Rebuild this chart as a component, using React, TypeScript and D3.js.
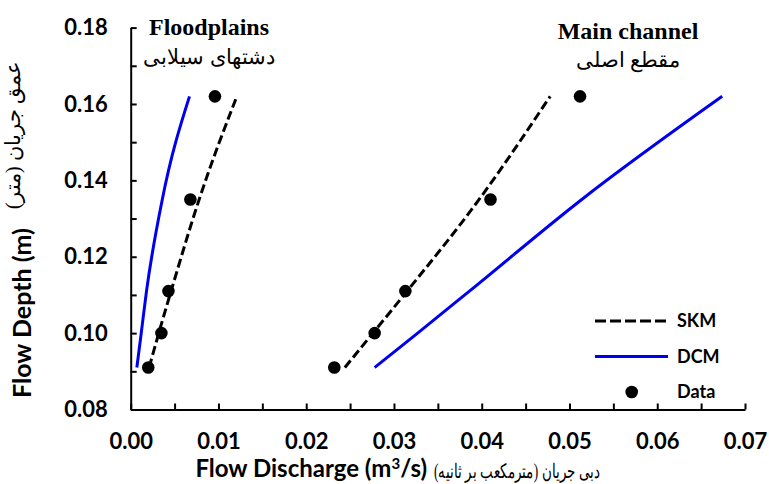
import React, { useRef, useEffect } from 'react';
import * as d3 from 'd3';

// Flow depth (m) shared by every series
const depths = [0.091, 0.1, 0.111, 0.135, 0.162];

// Floodplains
const fpData = [0.002, 0.0035, 0.0043, 0.0068, 0.0096];
const fpSKM = [0.0021, 0.0032, 0.0046, 0.0078, 0.0121];
const fpDCM = [0.0007, 0.0012, 0.0018, 0.0036, 0.0067];

// Main channel
const mcData = [0.0232, 0.0278, 0.0313, 0.041, 0.0512];
const mcSKM = [0.0244, 0.0276, 0.0315, 0.0397, 0.0478];
const mcDCM = [0.0278, 0.0327, 0.0386, 0.0514, 0.0674];

const xTicks = d3.range(0, 0.0701, 0.005);
const yTicks = d3.range(0.08, 0.1801, 0.01);
const xLabels = ['0.00', '0.01', '0.02', '0.03', '0.04', '0.05', '0.06', '0.07'];
const yLabels = ['0.08', '0.10', '0.12', '0.14', '0.16', '0.18'];

const legendItems = ['SKM', 'DCM', 'Data'];

const W = 769;
const H = 484;
const sans = 'Lato, "Open Sans", sans-serif';
const serif = '"Liberation Serif", "Times New Roman", "DejaVu Serif", serif';
const blue = '#0000f0';

const App = () => {
  const xAxisRef = useRef<SVGGElement>(null);
  const yAxisRef = useRef<SVGGElement>(null);

  const x = d3.scaleLinear().domain([0, 0.07]).range([130.7, 745]);
  const y = d3.scaleLinear().domain([0.08, 0.18]).range([409.5, 27.6]);

  useEffect(() => {
    const fmtX = (d: number) => {
      const i = Math.round(d / 0.01);
      return Math.abs(d - i * 0.01) < 1e-6 ? xLabels[i] : '';
    };
    const fmtY = (d: number) => {
      const i = Math.round((d - 0.08) / 0.02);
      return Math.abs(d - 0.08 - i * 0.02) < 1e-6 ? yLabels[i] : '';
    };

    const gx = d3.select(xAxisRef.current);
    gx.selectAll('*').remove();
    gx.call(
      d3
        .axisBottom(x)
        .tickValues(xTicks)
        .tickSizeInner(-6)
        .tickSizeOuter(0)
        .tickPadding(24)
        .tickFormat((d) => fmtX(+d))
    );

    const gy = d3.select(yAxisRef.current);
    gy.selectAll('*').remove();
    gy.call(
      d3
        .axisLeft(y)
        .tickValues(yTicks)
        .tickSizeInner(-6)
        .tickSizeOuter(0)
        .tickPadding(23)
        .tickFormat((d) => fmtY(+d))
    );

    [gx, gy].forEach((g) => {
      g.select('.domain').attr('stroke', '#000').attr('stroke-width', 2);
      g.selectAll('.tick line').attr('stroke', '#000').attr('stroke-width', 2);
      g.selectAll('.tick text')
        .attr('fill', '#000')
        .style('font-family', sans)
        .style('font-weight', 'bold')
        .style('font-size', '22px');
    });
  }, []);

  const line = d3
    .line<[number, number]>()
    .x((d) => x(d[0]))
    .y((d) => y(d[1]))
    .curve(d3.curveMonotoneX);

  const pairs = (xs: number[]) => xs.map((v, i) => [v, depths[i]] as [number, number]);

  return (
    <svg width={W} height={H} style={{ position: 'absolute', left: 0, top: 0, background: '#fff' }}>
      {/* model curves */}
      <path d={line(pairs(fpDCM)) || ''} fill="none" stroke={blue} strokeWidth={3} />
      <path d={line(pairs(mcDCM)) || ''} fill="none" stroke={blue} strokeWidth={3} />
      <path d={line(pairs(fpSKM)) || ''} fill="none" stroke="#000" strokeWidth={3} strokeDasharray="9 4" />
      <path d={line(pairs(mcSKM)) || ''} fill="none" stroke="#000" strokeWidth={3} strokeDasharray="9 4" />

      {/* measured data */}
      {pairs(fpData).concat(pairs(mcData)).map((d, i) => (
        <circle key={i} cx={x(d[0])} cy={y(d[1])} r={6.3} fill="#000" />
      ))}

      <g ref={xAxisRef} transform={`translate(0,${y(0.08)})`} />
      <g ref={yAxisRef} transform={`translate(${x(0)},0)`} />

      {/* section labels */}
      <text x={209} y={35} textAnchor="middle" fontFamily={serif} fontWeight="bold" fontSize={24}>
        Floodplains
      </text>
      <text x={209} y={64} textAnchor="middle" direction="rtl" fontFamily={serif} fontSize={21}>
        دشتهای سیلابی
      </text>
      <text x={628} y={39} textAnchor="middle" fontFamily={serif} fontWeight="bold" fontSize={24}>
        Main channel
      </text>
      <text x={628} y={67} textAnchor="middle" direction="rtl" fontFamily={serif} fontSize={21}>
        مقطع اصلی
      </text>

      {/* legend */}
      {legendItems.map((name, i) => {
        const ly = 321 + i * 35.5;
        return (
          <g key={name}>
            {name === 'SKM' && (
              <line x1={595} x2={668} y1={ly} y2={ly} stroke="#000" strokeWidth={3} strokeDasharray="11 4" />
            )}
            {name === 'DCM' && <line x1={595} x2={668} y1={ly} y2={ly} stroke={blue} strokeWidth={3} />}
            {name === 'Data' && <circle cx={631.7} cy={ly} r={6.3} fill="#000" />}
            <text x={677} y={ly} dy="0.35em" fontFamily={sans} fontWeight="bold" fontSize={18}>
              {name}
            </text>
          </g>
        );
      })}

      {/* x axis title */}
      <text x={427} y={477} textAnchor="end" fontFamily={sans} fontWeight="bold" fontSize={24}>
        Flow Discharge (m<tspan dy={-8} fontSize={15}>3</tspan>
        <tspan dy={8}>/s)</tspan>
      </text>
      <text
        x={600}
        y={478}
        textAnchor="start"
        direction="rtl"
        fontFamily={serif}
        fontSize={20}
        textLength={166}
        lengthAdjust="spacingAndGlyphs"
      >
        دبی جریان (مترمکعب بر ثانیه)
      </text>

      {/* y axis title */}
      <text
        transform="translate(31,398) rotate(-90)"
        textAnchor="start"
        fontFamily={sans}
        fontWeight="bold"
        fontSize={25}
      >
        Flow Depth (m)
      </text>
      <text
        transform="translate(20,135) rotate(-90)"
        textAnchor="middle"
        direction="rtl"
        fontFamily={serif}
        fontSize={21}
      >
        عمق جریان (متر)
      </text>
    </svg>
  );
};

export default App;
